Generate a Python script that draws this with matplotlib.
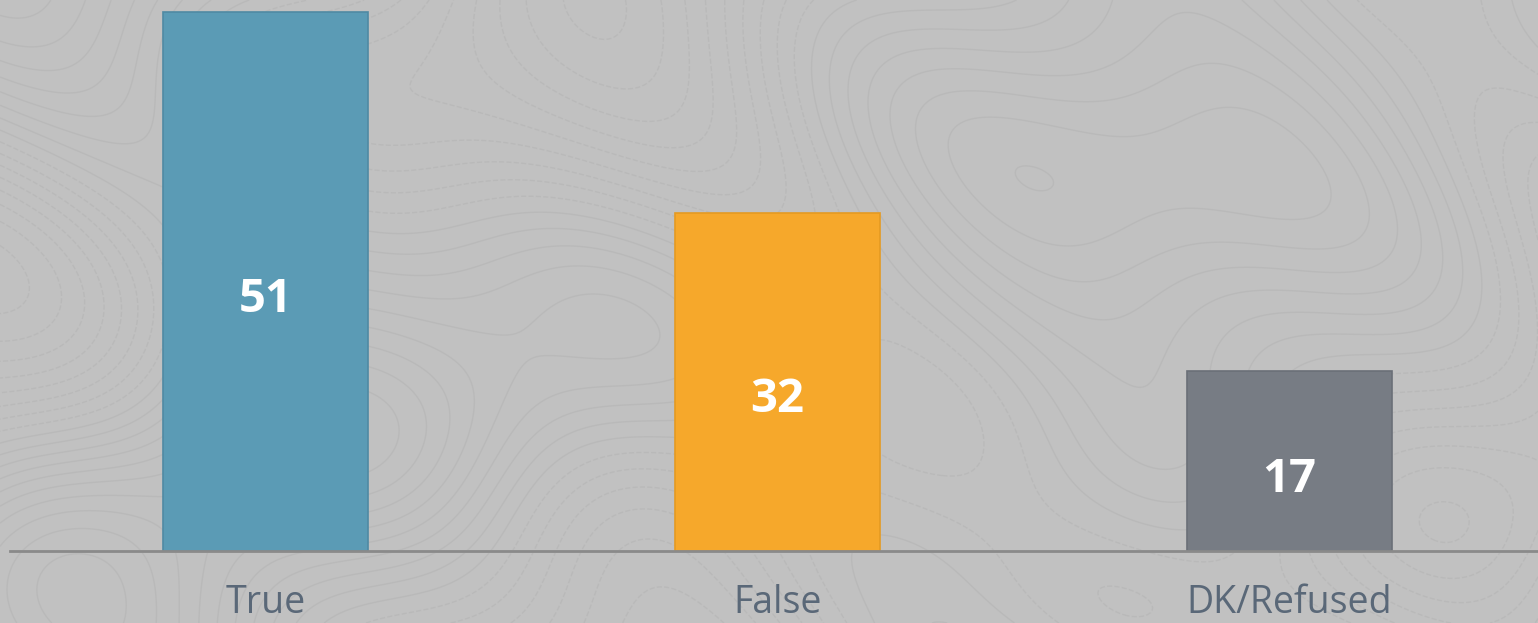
import numpy as np
from matplotlib import pyplot as plt

# Survey responses (percent)
categories = ['True', 'False', 'DK/Refused']
values = [51, 32, 17]
colors = ['#5b9bb5', '#f6a82b', '#777c84']
edges = ['#4f8aa3', '#e59a22', '#6a6f77']

bg = '#c1c1c1'

fig = plt.figure(figsize=(15.38, 6.23), dpi=100)
fig.patch.set_facecolor(bg)

# faint topographic-looking texture behind the chart
tex = fig.add_axes([0, 0, 1, 1], zorder=0)
gx, gy = np.meshgrid(np.linspace(0, 15, 600), np.linspace(0, 6, 250))
field = (np.sin(gx * 0.7 + np.cos(gy * 1.1)) + np.cos(gy * 0.9 - gx * 0.35)
         + 0.4 * np.sin(gx * 1.6 + gy * 1.3))
tex.contour(gx, gy, field, levels=20, colors='#b3b3b3', linewidths=1.0, alpha=0.55)
tex.set_facecolor(bg)
tex.axis('off')

ax = fig.add_axes([10 / 1538, (623 - 551) / 623, 1528 / 1538, 551 / 623], zorder=1)
ax.patch.set_alpha(0)

x = np.arange(len(categories))
bars = ax.bar(x, values, width=0.4, color=colors, edgecolor=edges, linewidth=1.2, zorder=2)

for xi, v in zip(x, values):
    ax.text(xi, v / 2 - 1.7, str(v), ha='center', va='center', color='white',
            fontsize=34, fontweight='bold', family='Open Sans', zorder=3)

ax.set_xlim(-0.499, 2.485)
ax.set_ylim(0, 52.1)

for s in ['top', 'right', 'left']:
    ax.spines[s].set_visible(False)
ax.spines['bottom'].set_color('#8a8a8a')
ax.spines['bottom'].set_linewidth(2)

ax.set_yticks([])
ax.set_xticks(x)
ax.set_xticklabels(categories, fontsize=27, color='#5a6878', family='Open Sans')
ax.tick_params(axis='x', length=0, pad=24)

fig.savefig('out.png', dpi=100, facecolor=bg)
